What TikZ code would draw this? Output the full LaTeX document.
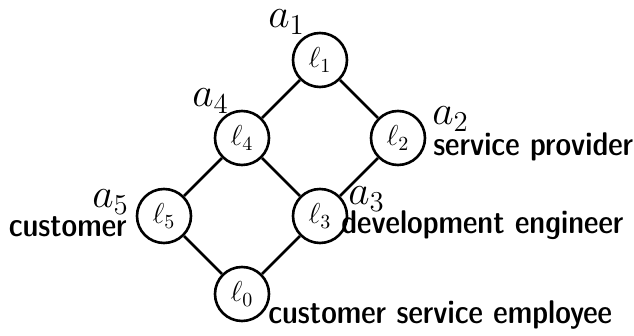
\documentclass[tikz,border=0pt]{standalone}
\usepackage{amsmath,amssymb}
\usetikzlibrary{positioning}

\begin{document}
\begin{tikzpicture}[x=0.5pt,y=-0.5pt,line width=1.3pt,
    node distance=39pt and 39pt,on grid,
    lat/.style={circle,draw,minimum size=27pt,inner sep=0pt,font=\fontsize{14}{16}\selectfont},
    att/.style={inner sep=0pt,anchor=base west,font=\fontsize{19.5}{22}\selectfont},
    role/.style={inner sep=0pt,anchor=base west,font=\fontsize{16.4}{19}\selectfont\sffamily\fontseries{sbc}\selectfont}]
    \useasboundingbox (0,0) rectangle (634,336);

    \node[lat] (l1) at (320,60) {$\ell_1$};
    \node[lat] (l4) [below left=of l1] {$\ell_4$};
    \node[lat] (l2) [below right=of l1] {$\ell_2$};
    \node[lat] (l5) [below left=of l4] {$\ell_5$};
    \node[lat] (l3) [below right=of l4] {$\ell_3$};
    \node[lat] (l0) [below right=of l5] {$\ell_0$};

    \draw (l1) -- (l4) (l1) -- (l2)
      (l4) -- (l5) (l4) -- (l3) (l2) -- (l3)
      (l5) -- (l0) (l3) -- (l0);

    % attributes
    \node[att] (a1) at (267,28) {$a_1$};
    \node[att] (a4) at (191,107) {$a_4$};
    \node[att] (a2) at (431,125) {$a_2$};
    \node[att] (a3) at (347,205) {$a_3$};
    \node[att] (a5) at (91,208) {$a_5$};

    % objects
    \node[role] (sp) at (432,156) {service provider};
    \node[role] (de) at (340,234) {development engineer};
    \node[role,anchor=base east] (cu) at (128,237) {customer};
    \node[role] (cse) at (267,324) {customer service employee};
\end{tikzpicture}
\end{document}
